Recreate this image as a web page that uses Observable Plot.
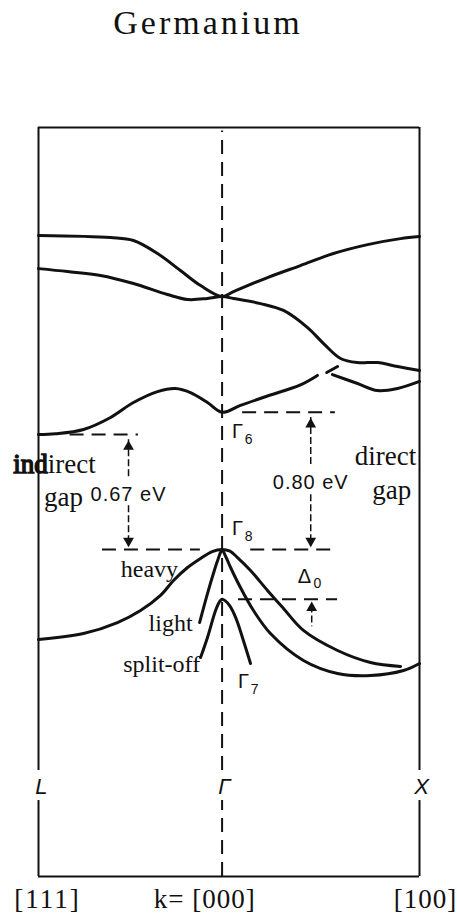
<!DOCTYPE html>
<html>
<head>
<meta charset="utf-8">
<script src="https://cdn.jsdelivr.net/npm/d3@7"></script>
<script src="https://cdn.jsdelivr.net/npm/@observablehq/plot@0.6"></script>
<style>
  html, body { margin: 0; padding: 0; background: #fff; }
  #wrap { position: relative; width: 457px; height: 917px; }
  #title {
    position: absolute; left: 0; top: 4px; width: 416px; text-align: center;
    font-family: "Liberation Serif", serif; font-size: 34px; letter-spacing: 3px; color: #111;
  }
  svg { display: block; }
</style>
</head>
<body>
<div id="wrap">
  <div id="title">Germanium</div>
  <div id="chart"></div>
</div>
<script>
// Germanium band structure along L – Γ – X (k in units of the Γ–X distance, E in eV,
// zero at the top of the valence band Γ8).
const kL = -0.93, kGamma = 0, kX = 1;
const gapIndirect = 0.67;   // L6 conduction minimum
const gapDirect = 0.80;     // Γ6 conduction minimum
const splitOff = 0.29;      // Δ0
const eTop = 2.461, eBottom = -1.907;

// conduction bands, [k, E]
const bandUpper = [[-0.93,1.831],[-0.565,1.819],[-0.449,1.802],[-0.327,1.726],[-0.211,1.627],[-0.109,1.539],[0,1.475],[0.058,1.504],[0.230,1.586],[0.397,1.656],[0.564,1.726],[0.737,1.778],[0.904,1.813],[1,1.825]];
const bandSecond = [[-0.93,1.638],[-0.783,1.621],[-0.616,1.598],[-0.449,1.551],[-0.277,1.487],[-0.175,1.458],[-0.074,1.464],[0,1.475],[0.058,1.464],[0.195,1.434],[0.311,1.394],[0.433,1.294],[0.514,1.201],[0.600,1.114],[0.686,1.090],[0.787,1.090],[0.889,1.067],[1,1.044]];
const bandLowest = [[-0.93,0.67],[-0.844,0.675],[-0.702,0.70],[-0.565,0.77],[-0.449,0.857],[-0.327,0.921],[-0.236,0.939],[-0.160,0.915],[-0.074,0.857],[0,0.80],[0.093,0.84],[0.230,0.895],[0.397,0.96],[0.483,1.015]];
const bandLowestTail = [[0.530,1.032],[0.585,1.067]];
const bandFourth = [[0.559,1.020],[0.686,0.968],[0.787,0.927],[0.889,0.939],[1,0.98]];

// valence bands, [k, E]
const heavyHole = [[-0.93,-0.525],[-0.702,-0.490],[-0.530,-0.426],[-0.413,-0.356],[-0.312,-0.268],[-0.246,-0.181],[-0.175,-0.105],[-0.109,-0.052],[-0.05,-0.012],[0,0],[0.04,-0.01],[0.078,-0.047],[0.144,-0.122],[0.230,-0.239],[0.311,-0.344],[0.412,-0.472],[0.585,-0.589],[0.752,-0.659],[0.904,-0.682]];
const lightHole = [[-0.114,-0.426],[-0.074,-0.257],[-0.044,-0.140],[-0.02,-0.055],[0,-0.005],[0.02,-0.045],[0.043,-0.105],[0.093,-0.222],[0.159,-0.356],[0.245,-0.490],[0.412,-0.647],[0.585,-0.723],[0.752,-0.735],[0.919,-0.706],[1,-0.665]];
const splitOffBand = [[-0.109,-0.630],[-0.074,-0.513],[-0.033,-0.356],[-0.012,-0.303],[0,-0.29],[0.015,-0.298],[0.04,-0.33],[0.07,-0.40],[0.105,-0.52],[0.144,-0.665]];

const bands = [bandUpper, bandSecond, bandLowest, bandLowestTail, bandFourth, heavyHole, lightHole, splitOffBand];

// dashed reference levels
const levels = [
  {E: gapDirect, k1: 0.104, k2: 0.574},
  {E: gapIndirect, k1: -0.77, k2: -0.424},
  {E: 0, k1: -0.606, k2: -0.11},
  {E: 0, k1: 0.145, k2: 0.585},
  {E: -splitOff, k1: 0.083, k2: 0.585}
];

// gap arrows
const gapArrows = [
  {k: -0.474, from: gapIndirect, to: 0, label: "0.67 eV"},
  {k: 0.449, from: gapDirect, to: 0, label: "0.80 eV"}
];
const deltaArrow = {k: 0.454, E: -splitOff};

// k-point labels, with the break they leave in the vertical lines
const kPoints = [{k: kL, text: "L", at: -0.915}, {k: kGamma, text: "Γ", at: 0.012}, {k: kX, text: "X", at: 1.01}];
const kLabelGap = [-1.464, -1.289];
const directions = [{k: -0.884, text: "[111]"}, {k: -0.088, text: "k= [000]"}, {k: 1.03, text: "[100]"}];

// band and gap names
const serifLabels = [
  {k: -0.368, E: -0.163, text: "heavy", size: 24},
  {k: -0.261, E: -0.478, text: "light", size: 24},
  {k: -0.306, E: -0.717, text: "split-off", size: 24},
  {k: -0.849, E: 0.449, text: "indirect", size: 27},
  {k: -0.803, E: 0.251, text: "gap", size: 27},
  {k: 0.828, E: 0.490, text: "direct", size: 27},
  {k: 0.859, E: 0.292, text: "gap", size: 27}
];
const symbolLabels = [
  {k: 0.078, E: 0.653, text: "Γ", sub: "6", sk: 0.134, sE: 0.618},
  {k: 0.078, E: 0.082, text: "Γ", sub: "8", sk: 0.134, sE: 0.052},
  {k: 0.109, E: -0.810, text: "Γ", sub: "7", sk: 0.165, sE: -0.845},
  {k: 0.417, E: -0.198, text: "Δ", sub: "0", sk: 0.483, sE: -0.227}
];

const ink = "#111";
const serif = "Liberation Serif, serif";
const sans = "Liberation Sans, Arial, sans-serif";

const shafts = [];
const heads = [];
for (const a of gapArrows) {
  const mid = (a.from + a.to) / 2;
  shafts.push({k: a.k, y1: a.from - 0.03, y2: mid + 0.085});
  shafts.push({k: a.k, y1: mid - 0.08, y2: a.to + 0.02});
  heads.push({k: a.k, E: a.from - 0.07, rot: 0});
  heads.push({k: a.k, E: a.to + 0.05, rot: 180});
}
shafts.push({k: deltaArrow.k, y1: deltaArrow.E - 0.04, y2: deltaArrow.E - 0.16});
heads.push({k: deltaArrow.k, E: deltaArrow.E - 0.05, rot: 0});

const marks = [
  // frame
  Plot.ruleY([eTop], {x1: kL, x2: kX, stroke: ink, strokeWidth: 2}),
  Plot.ruleY([eBottom], {x1: kL, x2: kX, stroke: ink, strokeWidth: 2}),
  Plot.ruleX([kL, kX], {y1: kLabelGap[1], y2: eTop, stroke: ink, strokeWidth: 2}),
  Plot.ruleX([kL, kX], {y1: eBottom, y2: kLabelGap[0], stroke: ink, strokeWidth: 2}),
  // Γ line
  Plot.ruleX([kGamma], {y1: kLabelGap[1], y2: eTop - 0.02, stroke: ink, strokeWidth: 2, strokeDasharray: "14,8"}),
  Plot.ruleX([kGamma], {y1: eBottom, y2: kLabelGap[0], stroke: ink, strokeWidth: 2, strokeDasharray: "14,8"}),
  // reference levels
  Plot.ruleY(levels, {y: "E", x1: "k1", x2: "k2", stroke: ink, strokeWidth: 2, strokeDasharray: "14,8"}),
  // arrows
  Plot.ruleX(shafts, {x: "k", y1: "y1", y2: "y2", stroke: ink, strokeWidth: 1.5, strokeDasharray: "7,3"}),
  Plot.dot(heads, {x: "k", y: "E", symbol: "triangle", r: 4, fill: ink, stroke: "none", rotate: "rot"}),
  // bands
  ...bands.map(b => Plot.line(b, {x: d => d[0], y: d => d[1], curve: "catmull-rom", stroke: ink, strokeWidth: 3, strokeLinecap: "round"})),
  // gap values
  Plot.text(gapArrows, {x: "k", y: d => (d.from + d.to) / 2 - 0.05, text: "label", fontFamily: sans, fontSize: 20, lineAnchor: "bottom", fill: ink}),
  // names
  Plot.text(serifLabels, {x: "k", y: "E", text: "text", fontFamily: serif, fontSize: "size", lineAnchor: "bottom", fill: ink}),
  Plot.text(symbolLabels, {x: "k", y: "E", text: "text", fontFamily: sans, fontSize: 20, lineAnchor: "bottom", fill: ink}),
  Plot.text(symbolLabels, {x: "sk", y: "sE", text: "sub", fontFamily: sans, fontSize: 14, lineAnchor: "bottom", fill: ink}),
  // k points and directions
  Plot.text(kPoints, {x: "at", y: -1.423, text: "text", fontFamily: sans, fontSize: 22, fontStyle: "italic", lineAnchor: "bottom", fill: ink}),
  Plot.text(directions, {x: "k", y: -2.093, text: "text", fontFamily: serif, fontSize: 27, lineAnchor: "bottom", fill: ink})
];

const chart = Plot.plot({
  width: 457,
  height: 917,
  marginLeft: 38,
  marginRight: 38,
  marginTop: 127,
  marginBottom: 41,
  x: {domain: [kL, kX], axis: null},
  y: {domain: [eBottom, eTop], axis: null},
  style: {background: "transparent", overflow: "visible"},
  marks
});

const spacing = {"[111]": "2px", "k= [000]": "1px", "[100]": "1px", "0.80 eV": "1px", "0.67 eV": "1px"};
d3.select(chart).selectAll("text").each(function () {
  const t = this.textContent;
  const s = spacing[t];
  if (s) this.style.letterSpacing = s;
  if (t === "indirect") {
    // the overstruck "ind" is drawn heavier than the rest of the word
    const el = d3.select(this).text("");
    el.append("tspan").attr("stroke", ink).attr("stroke-width", 1.4).text("ind");
    el.append("tspan").text("irect");
  }
});
document.getElementById("chart").appendChild(chart);
</script>
</body>
</html>
